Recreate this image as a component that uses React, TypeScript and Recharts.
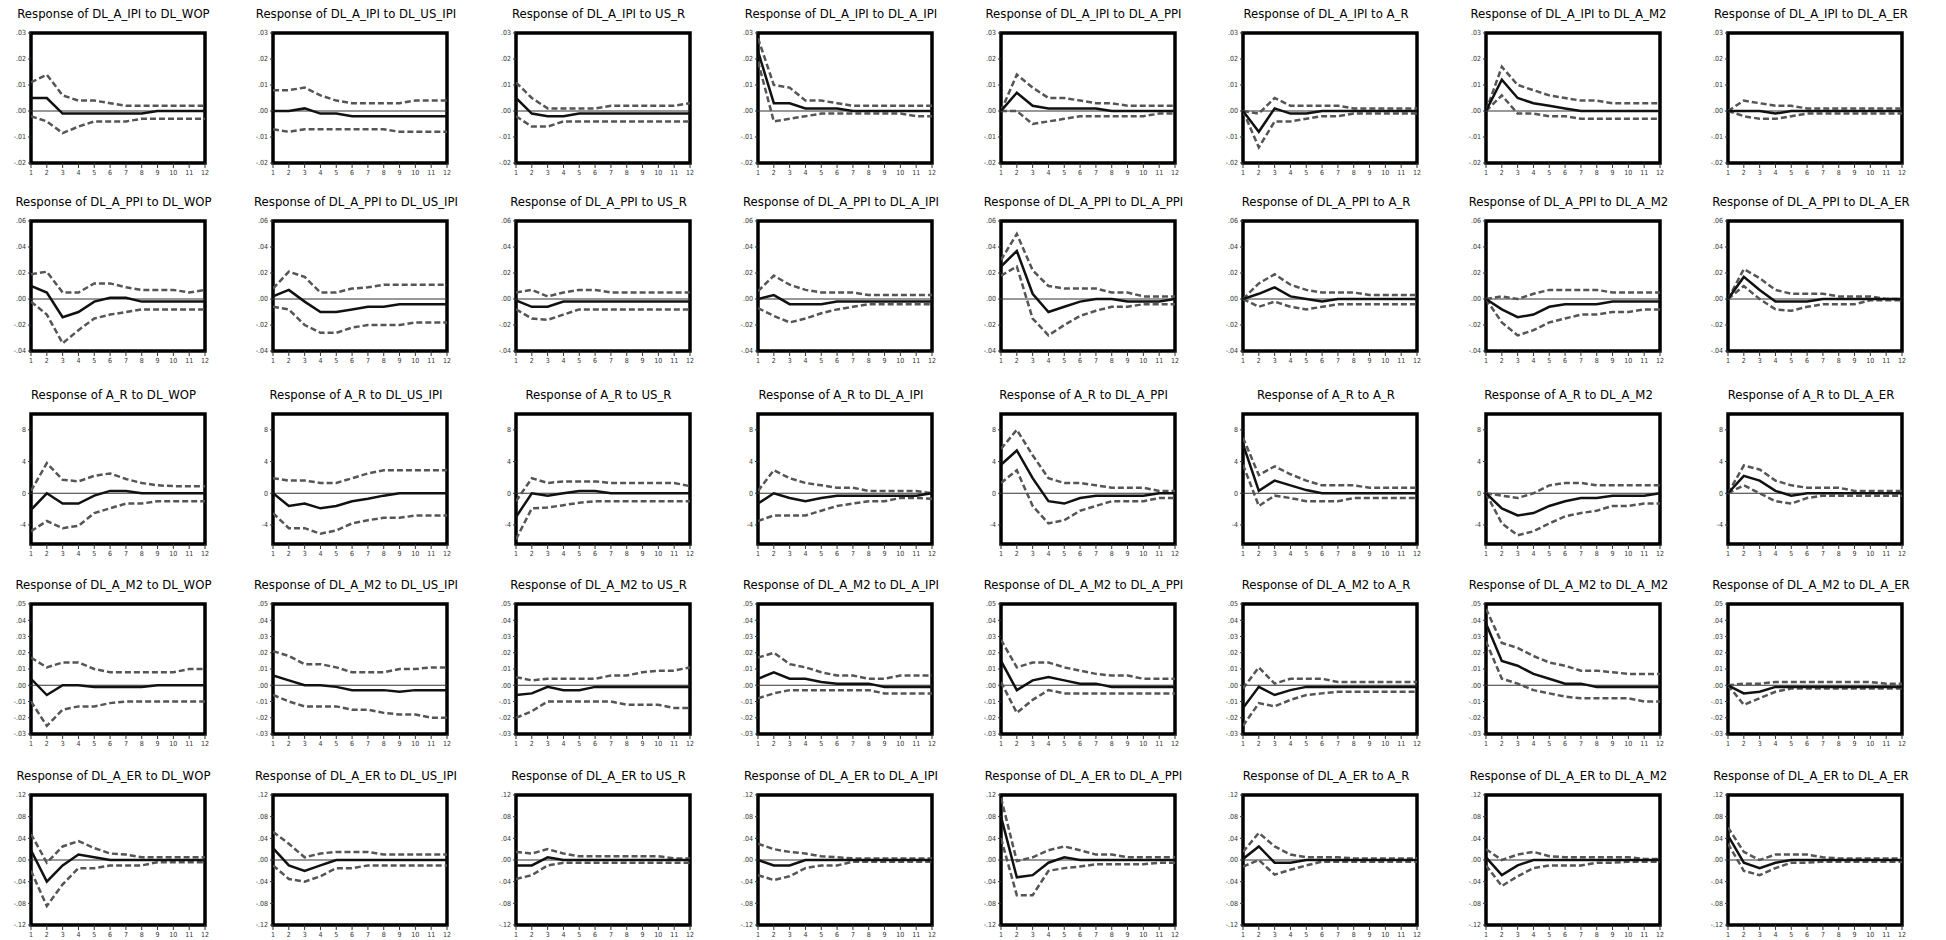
import React from 'react';
import { LineChart, Line, XAxis, YAxis, ReferenceLine, ReferenceArea } from 'recharts';

const periods = [1, 2, 3, 4, 5, 6, 7, 8, 9, 10, 11, 12];
const responses = ['DL_A_IPI', 'DL_A_PPI', 'A_R', 'DL_A_M2', 'DL_A_ER'];
const impulses = ['DL_WOP', 'DL_US_IPI', 'US_R', 'DL_A_IPI', 'DL_A_PPI', 'A_R', 'DL_A_M2', 'DL_A_ER'];

const yDomains: number[][] = [[-0.02, 0.03], [-0.04, 0.06], [-6.4, 10], [-0.03, 0.05], [-0.12, 0.12]];
const yTicks: number[][] = [
  [-0.02, -0.01, 0, 0.01, 0.02, 0.03],
  [-0.04, -0.02, 0, 0.02, 0.04, 0.06],
  [-4, 0, 4, 8],
  [-0.03, -0.02, -0.01, 0, 0.01, 0.02, 0.03, 0.04, 0.05],
  [-0.12, -0.08, -0.04, 0, 0.04, 0.08, 0.12],
];

// Response of DL_A_IPI
const ipiMid = [
  [.005, .005, -.001, -.001, -.001, -.001, -.001, -.001, 0, 0, 0, 0],
  [0, 0, .001, -.001, -.001, -.002, -.002, -.002, -.002, -.002, -.002, -.002],
  [.005, -.001, -.002, -.002, -.001, -.001, -.001, -.001, -.001, -.001, -.001, -.001],
  [.023, .003, .003, .001, .001, .001, 0, 0, 0, 0, 0, 0],
  [0, .007, .002, .001, .001, .001, .001, 0, 0, 0, 0, 0],
  [0, -.008, .001, -.001, -.001, 0, 0, 0, 0, 0, 0, 0],
  [0, .012, .005, .003, .002, .001, 0, 0, 0, 0, 0, 0],
  [0, 0, 0, -.001, 0, 0, 0, 0, 0, 0, 0, 0],
];
const ipiUp = [
  [.011, .014, .006, .004, .004, .003, .002, .002, .002, .002, .002, .002],
  [.008, .008, .009, .006, .004, .003, .003, .003, .003, .004, .004, .004],
  [.011, .005, .001, .001, .001, .001, .002, .002, .002, .002, .002, .003],
  [.028, .010, .009, .004, .004, .003, .002, .002, .002, .002, .002, .002],
  [0, .014, .009, .005, .005, .004, .003, .003, .002, .002, .002, .002],
  [0, -.001, .005, .002, .002, .002, .002, .001, .001, .001, .001, .001],
  [0, .017, .010, .008, .006, .005, .004, .004, .003, .003, .003, .003],
  [0, .004, .003, .002, .002, .001, .001, .001, .001, .001, .001, .001],
];
const ipiLo = [
  [-.002, -.004, -.0085, -.006, -.004, -.004, -.004, -.003, -.003, -.003, -.003, -.003],
  [-.007, -.008, -.007, -.007, -.007, -.007, -.007, -.007, -.008, -.008, -.008, -.008],
  [-.002, -.006, -.006, -.004, -.004, -.004, -.004, -.004, -.004, -.004, -.004, -.004],
  [.019, -.004, -.003, -.002, -.001, -.001, -.001, -.001, -.001, -.001, -.002, -.002],
  [0, 0, -.005, -.004, -.003, -.002, -.002, -.002, -.002, -.002, -.001, -.001],
  [0, -.014, -.004, -.004, -.003, -.002, -.002, -.001, -.001, -.001, -.001, -.001],
  [0, .006, -.001, -.001, -.002, -.002, -.003, -.003, -.003, -.003, -.003, -.003],
  [0, -.002, -.003, -.003, -.002, -.001, -.001, -.001, -.001, -.001, -.001, -.001],
];

// Response of DL_A_PPI
const ppiMid = [
  [.010, .005, -.014, -.010, -.002, .001, .001, -.002, -.002, -.002, -.002, -.002],
  [.002, .007, -.002, -.010, -.010, -.008, -.006, -.006, -.004, -.004, -.004, -.004],
  [-.001, -.006, -.006, -.002, -.002, -.002, -.002, -.002, -.002, -.002, -.002, -.002],
  [0, .003, -.004, -.004, -.004, -.002, -.002, -.002, -.002, -.002, -.002, -.002],
  [.025, .037, .004, -.010, -.006, -.002, 0, 0, -.002, -.002, -.002, 0],
  [0, .004, .009, .002, 0, -.002, 0, 0, 0, 0, 0, 0],
  [0, -.008, -.014, -.012, -.006, -.004, -.004, -.004, -.002, -.002, -.002, -.002],
  [0, .017, .007, -.002, -.002, -.002, 0, 0, 0, 0, 0, 0],
];
const ppiUp = [
  [.019, .021, .005, .005, .012, .012, .009, .007, .007, .007, .005, .007],
  [.008, .021, .017, .005, .005, .008, .009, .011, .011, .011, .011, .011],
  [.005, .007, .002, .005, .007, .007, .005, .005, .005, .005, .005, .005],
  [.006, .018, .011, .007, .005, .005, .005, .003, .003, .003, .003, .003],
  [.030, .050, .022, .010, .008, .008, .008, .005, .005, .002, .002, .002],
  [0, .012, .019, .011, .007, .005, .005, .005, .003, .003, .003, .003],
  [0, .002, 0, .004, .007, .007, .007, .007, .005, .005, .005, .005],
  [0, .023, .016, .007, .004, .004, .004, .002, .002, .002, 0, 0],
];
const ppiLo = [
  [-.002, -.012, -.034, -.024, -.015, -.012, -.010, -.008, -.008, -.008, -.008, -.008],
  [-.006, -.008, -.020, -.026, -.026, -.022, -.020, -.020, -.020, -.018, -.018, -.018],
  [-.008, -.015, -.016, -.012, -.008, -.008, -.008, -.008, -.008, -.008, -.008, -.008],
  [-.007, -.013, -.018, -.015, -.011, -.008, -.006, -.004, -.004, -.004, -.004, -.004],
  [.018, .025, -.015, -.028, -.020, -.013, -.009, -.006, -.006, -.004, -.004, -.004],
  [0, -.006, -.002, -.006, -.008, -.006, -.004, -.004, -.004, -.004, -.004, -.004],
  [0, -.018, -.028, -.024, -.018, -.015, -.012, -.012, -.010, -.010, -.008, -.008],
  [0, .010, 0, -.008, -.009, -.006, -.004, -.004, -.004, -.001, -.001, -.001],
];

// Response of A_R
const arMid = [
  [-2.1, 0, -1.3, -1.3, -0.3, 0.3, 0.3, 0, 0, 0, 0, 0],
  [0, -1.6, -1.3, -1.9, -1.6, -1.0, -0.7, -0.3, 0, 0, 0, 0],
  [-3.0, 0, -0.3, 0, 0.3, 0.3, 0, 0, 0, 0, 0, 0],
  [-1.3, 0, -0.6, -1.0, -0.6, -0.3, -0.3, -0.3, -0.3, -0.3, -0.3, 0],
  [3.6, 5.4, 1.9, -1.0, -1.3, -0.6, -0.3, -0.3, -0.3, -0.3, 0, 0],
  [6.2, 0.3, 1.6, 1.0, 0.4, 0, 0, 0, 0, 0, 0, 0],
  [0, -1.9, -2.8, -2.5, -1.6, -1.0, -0.6, -0.6, -0.3, -0.3, -0.3, 0],
  [0, 2.2, 1.6, 0.3, -0.3, 0, 0, 0, 0, 0, 0, 0],
];
const arUp = [
  [0.3, 3.8, 1.7, 1.5, 2.2, 2.5, 1.8, 1.3, 1.0, 0.9, 0.9, 0.9],
  [1.9, 1.6, 1.6, 1.3, 1.3, 1.9, 2.5, 2.9, 2.9, 2.9, 2.9, 2.9],
  [-1.0, 1.9, 1.3, 1.5, 1.5, 1.5, 1.3, 1.3, 1.3, 1.3, 1.3, 0.9],
  [0.3, 2.9, 1.9, 1.3, 1.0, 0.7, 0.7, 0.3, 0.3, 0.3, 0.3, 0],
  [5.6, 8.0, 4.8, 1.9, 1.3, 1.3, 1.0, 0.7, 0.7, 0.7, 0.3, 0.3],
  [7.0, 2.3, 3.4, 2.4, 1.6, 1.0, 1.0, 1.0, 0.7, 0.7, 0.7, 0.7],
  [0, -0.3, -0.6, 0, 1.0, 1.3, 1.3, 1.0, 1.0, 1.0, 1.0, 1.0],
  [0, 3.5, 3.0, 1.6, 1.0, 0.7, 0.7, 0.7, 0.3, 0.3, 0.3, 0.3],
];
const arLo = [
  [-4.8, -3.5, -4.4, -4.1, -2.5, -1.9, -1.3, -1.3, -1.0, -1.0, -1.0, -1.0],
  [-2.5, -4.4, -4.4, -5.1, -4.7, -3.8, -3.4, -3.1, -3.1, -2.8, -2.8, -2.8],
  [-5.8, -1.9, -1.8, -1.5, -1.2, -1.0, -1.0, -1.0, -1.0, -1.0, -1.0, -1.0],
  [-3.5, -2.8, -2.8, -2.8, -2.2, -1.6, -1.3, -1.0, -1.0, -0.6, -0.6, -0.7],
  [1.3, 2.9, -1.6, -3.8, -3.4, -2.2, -1.6, -1.0, -1.0, -1.0, -0.6, -0.6],
  [3.6, -1.6, -0.3, -0.6, -1.0, -1.0, -1.0, -0.6, -0.6, -0.6, -0.6, -0.6],
  [0, -3.8, -5.3, -4.8, -3.8, -2.9, -2.5, -2.2, -1.6, -1.6, -1.3, -1.3],
  [0, 1.0, 0, -1.0, -1.3, -0.6, -0.3, -0.3, -0.3, -0.3, -0.3, -0.3],
];

// Response of DL_A_M2
const m2Mid = [
  [.004, -.006, 0, 0, -.001, -.001, -.001, -.001, 0, 0, 0, 0],
  [.006, .003, 0, 0, -.001, -.003, -.003, -.003, -.004, -.003, -.003, -.003],
  [-.006, -.005, -.001, -.003, -.003, -.001, -.001, -.001, -.001, -.001, -.001, -.001],
  [.004, .008, .004, .004, .002, .001, .001, .001, -.001, -.001, -.001, -.001],
  [.015, -.003, .003, .005, .003, .001, .001, -.001, -.001, -.001, -.001, -.001],
  [-.014, -.001, -.006, -.003, -.001, -.001, -.001, -.001, -.001, -.001, -.001, -.001],
  [.038, .015, .012, .007, .004, .001, .001, -.001, -.001, -.001, -.001, -.001],
  [0, -.005, -.004, -.001, -.001, -.001, -.001, -.001, -.001, -.001, -.001, -.001],
];
const m2Up = [
  [.017, .011, .014, .014, .010, .008, .008, .008, .008, .008, .010, .010],
  [.021, .018, .013, .013, .011, .008, .008, .008, .010, .010, .011, .011],
  [.005, .003, .004, .004, .004, .004, .006, .006, .008, .009, .009, .011],
  [.017, .020, .013, .011, .008, .006, .006, .004, .004, .006, .006, .006],
  [.028, .011, .014, .014, .011, .009, .007, .006, .006, .004, .004, .004],
  [-.002, .011, .001, .004, .004, .004, .002, .002, .002, .002, .002, .002],
  [.047, .026, .023, .018, .014, .012, .009, .009, .008, .007, .007, .007],
  [0, .001, .001, .002, .002, .002, .002, .002, .002, .002, .001, .001],
];
const m2Lo = [
  [-.010, -.025, -.015, -.013, -.013, -.011, -.010, -.010, -.010, -.010, -.010, -.010],
  [-.006, -.010, -.013, -.013, -.013, -.015, -.015, -.017, -.018, -.018, -.020, -.020],
  [-.020, -.016, -.010, -.010, -.010, -.010, -.010, -.012, -.012, -.012, -.014, -.014],
  [-.008, -.005, -.003, -.003, -.003, -.003, -.003, -.003, -.005, -.005, -.005, -.005],
  [.002, -.017, -.009, -.003, -.005, -.005, -.005, -.005, -.005, -.005, -.005, -.005],
  [-.025, -.011, -.013, -.009, -.006, -.005, -.004, -.004, -.004, -.004, -.004, -.004],
  [.027, .004, .001, -.003, -.005, -.007, -.008, -.008, -.008, -.008, -.010, -.010],
  [0, -.012, -.008, -.004, -.002, -.002, -.002, -.002, -.002, -.002, -.002, -.002],
];

// Response of DL_A_ER
const erMid = [
  [.018, -.040, -.010, .010, .005, 0, 0, 0, 0, 0, 0, 0],
  [.022, -.010, -.020, -.010, 0, 0, 0, 0, 0, 0, 0, 0],
  [-.010, -.010, .005, 0, 0, 0, 0, 0, 0, 0, 0, 0],
  [0, -.010, -.010, 0, 0, 0, 0, 0, 0, 0, 0, 0],
  [.080, -.032, -.028, -.005, .005, 0, 0, 0, 0, 0, 0, 0],
  [.002, .025, -.005, -.005, 0, 0, 0, 0, 0, 0, 0, 0],
  [.005, -.028, -.010, 0, 0, 0, 0, 0, 0, 0, 0, 0],
  [.045, -.005, -.015, -.005, 0, 0, 0, 0, 0, 0, 0, 0],
];
const erUp = [
  [.048, -.005, .025, .035, .022, .012, .010, .005, .005, .005, .005, .005],
  [.052, .030, .005, .012, .015, .015, .015, .010, .010, .010, .010, .010],
  [.015, .012, .020, .012, .007, .007, .007, .007, .007, .007, .003, .003],
  [.030, .020, .015, .012, .007, .005, .003, .003, .003, .003, .003, .003],
  [.115, -.002, .005, .018, .025, .018, .010, .010, .005, .005, .005, .005],
  [.015, .050, .025, .010, .005, .005, .005, .003, .003, .003, .003, .003],
  [.020, 0, .010, .015, .007, .005, .005, .005, .005, .005, .002, .002],
  [.060, .015, 0, .010, .010, .010, .005, .003, .003, .003, .003, .003],
];
const erLo = [
  [-.020, -.085, -.045, -.015, -.015, -.010, -.010, -.010, -.004, -.004, -.004, -.004],
  [-.010, -.035, -.040, -.030, -.015, -.015, -.010, -.010, -.010, -.010, -.010, -.010],
  [-.035, -.028, -.010, -.005, -.005, -.005, -.005, -.005, -.005, -.005, -.005, -.005],
  [-.028, -.037, -.030, -.015, -.010, -.010, -.003, -.003, -.003, -.003, -.003, -.003],
  [.040, -.065, -.065, -.020, -.015, -.012, -.008, -.008, -.008, -.008, -.005, -.005],
  [-.012, 0, -.027, -.018, -.010, -.003, -.003, -.003, -.003, -.003, -.003, -.003],
  [-.010, -.048, -.030, -.015, -.010, -.010, -.010, -.005, -.005, -.003, -.003, -.003],
  [.030, -.020, -.028, -.015, -.005, -.005, -.003, -.003, -.003, -.003, -.003, -.003],
];

const mids = [ipiMid, ppiMid, arMid, m2Mid, erMid];
const ups = [ipiUp, ppiUp, arUp, m2Up, erUp];
const los = [ipiLo, ppiLo, arLo, m2Lo, erLo];

const BOX_LEFT0 = 30.5;
const COL_PITCH = 242.5;
const BOX_W = 174;
const ROW_TOPS = [33, 221, 414, 604, 795];
const BOX_H = 130;
const YW = 32;
const MT = 6;
const MR = 6;
const XH = 22;
const FONT = "'Liberation Sans Narrow', 'DejaVu Sans Condensed', 'Liberation Sans', Arial, sans-serif";

function fmtTick(row: number) {
  return (v: number) => {
    if (row === 2) return String(v);
    const s = Math.abs(v).toFixed(2).replace(/^0/, '');
    return v < 0 ? '-' + s : s;
  };
}

function Panel({ r, c }: { r: number; c: number }) {
  const mid = mids[r][c];
  const up = ups[r][c];
  const lo = los[r][c];
  const data = periods.map((p, i) => ({ x: p, m: mid[i], u: up[i], l: lo[i] }));
  const boxLeft = BOX_LEFT0 + COL_PITCH * c;
  const boxTop = ROW_TOPS[r];
  const dom = yDomains[r];
  return (
    <>
      <div
        style={{
          position: 'absolute',
          left: boxLeft + BOX_W / 2 - 130 - 4,
          width: 260,
          top: boxTop - 27,
          textAlign: 'center',
          whiteSpace: 'nowrap',
          fontFamily: FONT,
          fontSize: 13,
          lineHeight: '16px',
          color: '#000',
        }}
      >
        {`Response of ${responses[r]} to ${impulses[c]}`}
      </div>
      <div style={{ position: 'absolute', left: boxLeft - YW, top: boxTop - MT }}>
        <LineChart
          width={YW + BOX_W + MR}
          height={MT + BOX_H + XH}
          data={data}
          margin={{ top: MT, right: MR, left: 0, bottom: 0 }}
        >
          <XAxis
            type="number"
            dataKey="x"
            domain={[1, 12]}
            ticks={periods}
            interval={0}
            axisLine={false}
            tickSize={5}
            tickLine={{ stroke: '#333' }}
            tick={{ fontSize: 7, fill: '#333', fontFamily: FONT }}
            height={XH}
            allowDataOverflow
          />
          <YAxis
            type="number"
            domain={dom}
            ticks={yTicks[r]}
            interval={0}
            width={YW}
            axisLine={false}
            tickSize={3}
            tickLine={{ stroke: '#333' }}
            tick={{ fontSize: 7, fill: '#333', fontFamily: FONT }}
            tickFormatter={fmtTick(r)}
            allowDataOverflow
          />
          <ReferenceLine y={0} stroke="#333" strokeWidth={1.2} />
          <Line
            dataKey="u"
            type="linear"
            stroke="#555"
            strokeWidth={2.5}
            strokeDasharray="6 3"
            dot={false}
            isAnimationActive={false}
          />
          <Line
            dataKey="l"
            type="linear"
            stroke="#555"
            strokeWidth={2.5}
            strokeDasharray="6 3"
            dot={false}
            isAnimationActive={false}
          />
          <Line dataKey="m" type="linear" stroke="#111" strokeWidth={2.5} dot={false} isAnimationActive={false} />
          <ReferenceArea
            x1={1}
            x2={12}
            y1={dom[0]}
            y2={dom[1]}
            fill="none"
            fillOpacity={0}
            stroke="#000"
            strokeWidth={3.5}
            ifOverflow="visible"
          />
        </LineChart>
      </div>
    </>
  );
}

export default function App() {
  return (
    <div style={{ position: 'absolute', left: 0, top: 0, width: 1946, height: 940, background: '#fff' }}>
      {responses.map((_, r) => impulses.map((__, c) => <Panel key={`${r}-${c}`} r={r} c={c} />))}
    </div>
  );
}
